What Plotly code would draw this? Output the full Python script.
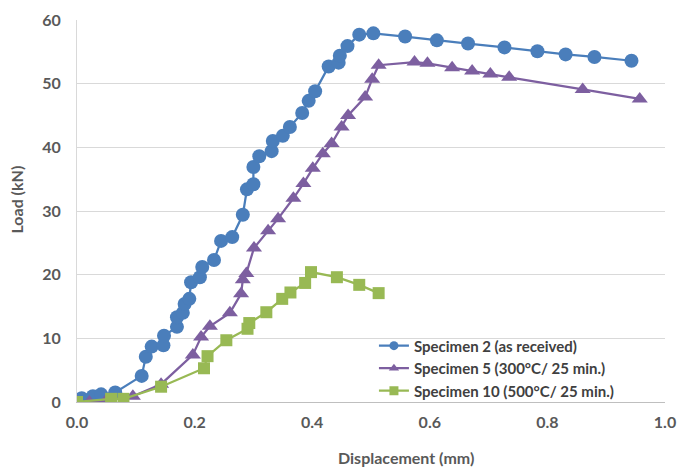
import plotly.graph_objects as go

# Specimen 2 (as received)
s2_x = [0.008, 0.027, 0.041, 0.065, 0.110, 0.117, 0.127, 0.147, 0.148, 0.170, 0.170, 0.180, 0.183, 0.191,
        0.194, 0.209, 0.213, 0.233, 0.245, 0.264, 0.282, 0.289, 0.300, 0.300, 0.310, 0.331, 0.333, 0.350,
        0.362, 0.383, 0.394, 0.405, 0.428, 0.445, 0.447, 0.460, 0.480, 0.504, 0.558, 0.612, 0.665, 0.727,
        0.783, 0.831, 0.880, 0.943]
s2_y = [0.6, 0.9, 1.2, 1.5, 4.1, 7.1, 8.7, 8.9, 10.4, 11.8, 13.3, 14.0, 15.4, 16.2,
        18.8, 19.6, 21.2, 22.3, 25.3, 25.9, 29.4, 33.4, 34.2, 36.9, 38.6, 39.4, 41.0, 41.8,
        43.2, 45.4, 47.3, 48.8, 52.7, 53.3, 54.4, 55.9, 57.7, 57.9, 57.4, 56.8, 56.3, 55.7,
        55.1, 54.6, 54.2, 53.6]

# Specimen 5 (300°C/ 25 min.)
s5_x = [0.0, 0.021, 0.050, 0.095, 0.143, 0.197, 0.211, 0.226, 0.260, 0.279, 0.282, 0.288, 0.301, 0.325,
        0.342, 0.368, 0.385, 0.401, 0.418, 0.433, 0.450, 0.461, 0.490, 0.502, 0.513, 0.574, 0.596, 0.638,
        0.672, 0.703, 0.735, 0.860, 0.957]
s5_y = [0.0, 0.0, 0.3, 0.9, 2.8, 7.4, 10.2, 11.9, 14.0, 17.0, 19.2, 20.2, 24.2, 26.9,
        28.8, 32.0, 34.3, 36.7, 39.0, 40.6, 43.2, 45.0, 47.9, 50.7, 52.9, 53.4, 53.2, 52.5,
        52.0, 51.5, 51.0, 49.1, 47.6]

# Specimen 10 (500°C/ 25 min.)
s10_x = [0.0, 0.058, 0.079, 0.143, 0.216, 0.222, 0.254, 0.290, 0.293, 0.322, 0.349, 0.363, 0.388, 0.398,
         0.442, 0.480, 0.513]
s10_y = [0.0, 0.5, 0.5, 2.4, 5.3, 7.2, 9.7, 11.5, 12.4, 14.1, 16.2, 17.2, 18.7, 20.4,
         19.6, 18.4, 17.1]

series_names = ["Specimen 2 (as received)", "Specimen 5 (300°C/ 25 min.)", "Specimen 10 (500°C/ 25 min.)"]
series_colors = ["#4A7EBB", "#7D5FA0", "#98B954"]
series_symbols = ["circle", "triangle-up", "square"]

x_ticks = [0.0, 0.2, 0.4, 0.6, 0.8, 1.0]
x_tick_labels = ["0.0", "0.2", "0.4", "0.6", "0.8", "1.0"]
y_ticks = [0, 10, 20, 30, 40, 50, 60]

FONT = "Lato"
TXT = "#595959"

fig = go.Figure()
data = [(s2_x, s2_y, 14), (s5_x, s5_y, 14), (s10_x, s10_y, 12)]
for (xs, ys, sz), name, col, sym in zip(data, series_names, series_colors, series_symbols):
    fig.add_trace(go.Scatter(x=xs, y=ys, mode="lines+markers", name=name, showlegend=False,
                             legendgroup=name,
                             line=dict(color=col, width=2.25),
                             marker=dict(symbol=sym, size=sz, color=col)))
# legend entries with smaller symbols (as in the original legend)
for name, col, sym in zip(series_names, series_colors, series_symbols):
    fig.add_trace(go.Scatter(x=[None], y=[None], mode="lines+markers", name=name, legendgroup=name,
                             line=dict(color=col, width=2.25),
                             marker=dict(symbol=sym, size=9, color=col)))

fig.update_layout(
    template="none",
    width=678, height=468,
    margin=dict(l=77, r=13, t=20, b=66, pad=0),
    paper_bgcolor="white", plot_bgcolor="white",
    font=dict(family=FONT, color=TXT, size=15, weight="bold"),
    showlegend=True,
    legend=dict(x=0.505, y=0.19, xanchor="left", yanchor="top", bgcolor="rgba(0,0,0,0)",
                font=dict(family=FONT, size=15, color="#404040", weight="bold"),
                itemwidth=30, tracegroupgap=0),
    xaxis=dict(range=[0, 1.0], tickvals=x_ticks, ticktext=x_tick_labels, showgrid=False,
               showline=True, linecolor="#BFBFBF", linewidth=1, zeroline=False, ticks="",
               automargin=False, ticklabelstandoff=6,
               tickfont=dict(family=FONT, size=16, color=TXT, weight="bold")),
    yaxis=dict(range=[0, 60], tickvals=y_ticks, showgrid=True, gridcolor="#D9D9D9", gridwidth=1,
               showline=True, linecolor="#D9D9D9", linewidth=1, zeroline=False, ticks="",
               automargin=False, ticklabelstandoff=12,
               tickfont=dict(family=FONT, size=16, color=TXT, weight="bold")),
    annotations=[
        dict(text="Displacement (mm)", xref="paper", yref="paper", x=0.56, y=-0.145,
             xanchor="center", yanchor="middle", showarrow=False,
             font=dict(family=FONT, size=16, color=TXT, weight="bold")),
        dict(text="Load (kN)", xref="paper", yref="paper", x=-0.102, y=0.53, textangle=-90,
             xanchor="center", yanchor="middle", showarrow=False,
             font=dict(family=FONT, size=16, color=TXT, weight="bold")),
    ],
)

fig.write_html("out.html", config={"displayModeBar": False},
               post_script="document.body.style.margin='0';document.body.style.overflow='hidden';")
